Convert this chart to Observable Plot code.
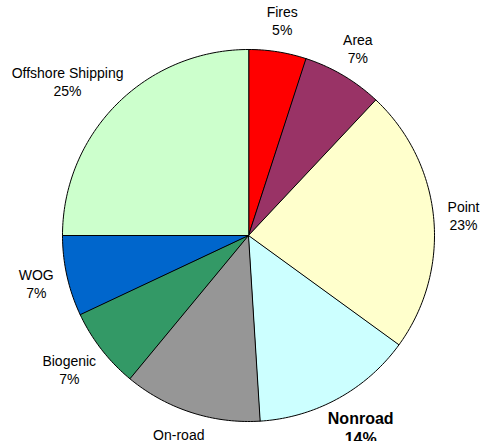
<!DOCTYPE html>
<html>
<head>
<meta charset="utf-8">
<script src="https://cdn.jsdelivr.net/npm/d3@7"></script>
<script src="https://cdn.jsdelivr.net/npm/@observablehq/plot@0.6"></script>
<style>
  html, body { margin: 0; padding: 0; background: #fff; }
  #chart svg { display: block; }
</style>
</head>
<body>
<div id="chart"></div>
<script>
// ---- data ----
const categories = ["Fires", "Area", "Point", "Nonroad", "On-road", "Biogenic", "WOG", "Offshore Shipping"];
const shares = [5, 7, 23, 14, 12, 7, 7, 25];
const colors = ["#FF0000", "#993366", "#FFFFCC", "#CCFFFF", "#969696", "#339966", "#0066CC", "#CCFFCC"];
const emphasized = ["Nonroad"];

// ---- layout ----
const W = 483, H = 441;
const cx = 248, cy = 235, R = 186;
const FONT = "'Liberation Sans', Arial, sans-serif";

const arcs = d3.pie().sort(null).value(d => d)(shares);

// polygon points of every slice, built from the pie angles
const slicePts = [];
arcs.forEach((a, i) => {
  const name = categories[i];
  slicePts.push({name, color: colors[i], x: 0, y: 0});
  const steps = Math.max(2, Math.ceil((a.endAngle - a.startAngle) / (Math.PI / 180)));
  for (let k = 0; k <= steps; k++) {
    const t = a.startAngle + (a.endAngle - a.startAngle) * k / steps;
    slicePts.push({name, color: colors[i], x: R * Math.sin(t), y: -R * Math.cos(t)});
  }
});

// measure label widths so they can sit just outside the slice ends
const ctx = document.createElement("canvas").getContext("2d");
function textWidth(str, size, weight) {
  ctx.font = `${weight} ${size}px ${FONT}`;
  return ctx.measureText(str).width;
}

const labels = arcs.map((a, i) => {
  const name = categories[i];
  const bold = emphasized.includes(name);
  const size = bold ? 16 : 14;
  const weight = bold ? "bold" : "normal";
  const pct = `${shares[i]}%`;
  const halfW = Math.max(textWidth(name, size, weight), textWidth(pct, size, weight)) / 2;
  const halfH = bold ? 19.5 : 18;
  const mid = (a.startAngle + a.endAngle) / 2;
  const s = Math.sin(mid), c = Math.cos(mid);
  const r = R + 14;
  return {name, text: `${name}\n${pct}`, bold, x: r * s + halfW * s, y: -r * c - halfH * c};
});

const plot = Plot.plot({
  width: W,
  height: H,
  margin: 0,
  style: {background: "#fff", fontFamily: FONT, overflow: "hidden"},
  x: {domain: [-cx, W - cx], range: [0, W], axis: null},
  y: {domain: [-cy, H - cy], range: [0, H], axis: null},
  color: {type: "identity"},
  marks: [
    Plot.line(slicePts, {
      x: "x", y: "y", z: "name",
      fill: "color",
      stroke: "#000",
      strokeWidth: 1,
      strokeLinejoin: "miter",
      curve: "linear-closed"
    }),
    Plot.text(labels.filter(d => !d.bold), {
      x: "x", y: "y", text: "text",
      fontSize: 14, lineHeight: 1.3, fill: "#000", textAnchor: "middle"
    }),
    Plot.text(labels.filter(d => d.bold), {
      x: "x", y: "y", text: "text",
      fontSize: 16, fontWeight: "bold", lineHeight: 1.2, fill: "#000", textAnchor: "middle"
    })
  ]
});

document.getElementById("chart").appendChild(plot);
</script>
</body>
</html>
